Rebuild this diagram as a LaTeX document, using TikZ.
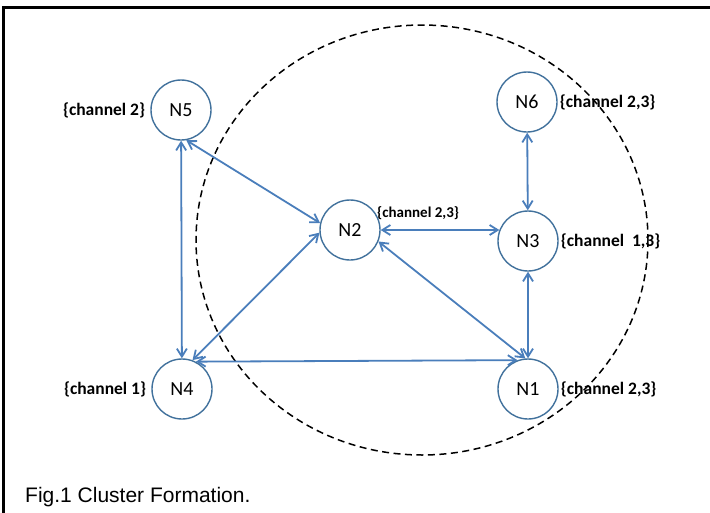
\documentclass[tikz,border=0pt]{standalone}
\usepackage{fontspec}
\setmainfont{Carlito}
\newfontfamily\capfont{Liberation Sans}
\usetikzlibrary{arrows.meta, positioning}

\definecolor{linkblue}{HTML}{4A7EBB}
\definecolor{ringblue}{HTML}{41719C}

\begin{document}
\begin{tikzpicture}[
    x=1pt, y=-1pt,
    >={Straight Barb[length=8pt, width=10pt]},
    node/.style={circle, draw=ringblue, line width=1.4pt, fill=white,
                 minimum size=60pt, inner sep=0pt, font=\fontsize{20}{20}\selectfont},
    chan/.style={font=\bfseries\fontsize{17.5}{18}\selectfont, inner sep=0pt},
    link/.style={<->, draw=linkblue, line width=1.8pt},
    cluster/.style={draw=black, line width=1.5pt, dash pattern=on 7pt off 4.5pt}
]
    \useasboundingbox (0,0) rectangle (710,512);

    % --- Marco ---
    \draw[line width=3pt] (3.5,520) -- (3.5,7) -- (712,7);

    % --- Cluster ---
    \draw[cluster] (422,240) ellipse [x radius=226, y radius=215];

    % --- Nodos ---
    \node[node] (n5) at (181,110) {N5};
    \node[node] (n6) at (527,102) {N6};
    \node[node] (n2) at (350,230) {N2};
    \node[node] (n3) at (528,241) {N3};
    \node[node] (n4) at (182,389) {N4};
    \node[node] (n1) at (528,389) {N1};

    % --- Canales ---
    \node[chan, left=5pt of n5]  {\{channel 2\}};
    \node[chan, right=2pt of n6] {\{channel 2,3\}};
    \node[chan, anchor=west, font=\bfseries\fontsize{15}{15}\selectfont]
        at (377,213) {\{channel 2,3\}};
    \node[chan, right=2pt of n3] {\{channel \ 1,3\}};
    \node[chan, left=5pt of n4]  {\{channel 1\}};
    \node[chan, right=2pt of n1] {\{channel 2,3\}};

    % --- Enlaces ---
    \draw[link] (n5) -- (n4);
    \draw[link] (n5.-80) -- (n2.167);
    \draw[link] (n4.70) -- (n2.185);
    \draw[link] (n4.63) -- (n1.110);
    \draw[link] (n2.east) -- (n3.159);
    \draw[link] (n2.-22) -- (n1.95);
    \draw[link] (n6) -- (n3);
    \draw[link] (n3) -- (n1);

    % --- Pie ---
    \node[anchor=base west, inner sep=0pt, font=\capfont\fontsize{21}{21}\selectfont]
        (caption) at (25,502) {Fig.1 Cluster Formation.};

\end{tikzpicture}
\end{document}
